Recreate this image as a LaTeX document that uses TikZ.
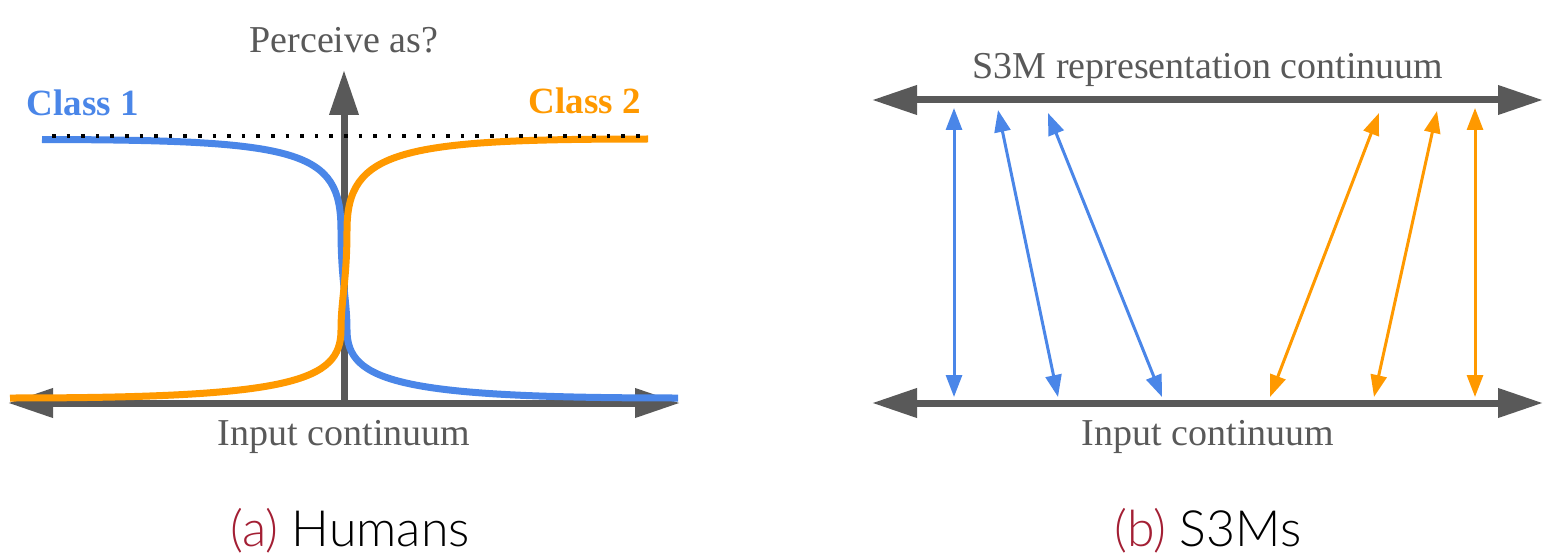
\documentclass[tikz,border=0pt]{standalone}
\usepackage{fontspec}
\setmainfont{Liberation Serif}
\newfontfamily\capfont{Lato}[UprightFont={* Light}]
\usetikzlibrary{arrows.meta}
\definecolor{axisgray}{HTML}{595959}
\definecolor{cblue}{HTML}{4A86E8}
\definecolor{corange}{HTML}{FF9900}
\definecolor{capred}{HTML}{A31F34}
\tikzset{
  axis/.style={draw=axisgray, line width=7pt},
  bigtip/.style={-{Triangle[length=45pt,width=28pt]}},
  bigtips/.style={{Triangle[length=45pt,width=28pt]}-{Triangle[length=45pt,width=28pt]}},
  curveline/.style={line width=7pt},
  thinarrow/.style={line width=3pt, {Triangle[length=22pt,width=16pt]}-{Triangle[length=22pt,width=16pt]}},
  lbl/.style={text=axisgray, font=\fontsize{38}{40}\selectfont, inner sep=0pt},
  cls/.style={font=\fontsize{37}{40}\selectfont\bfseries, inner sep=0pt},
  captext/.style={font=\capfont\fontsize{50}{52}\selectfont, inner sep=0pt}
}
\begin{document}
\begin{tikzpicture}[x=1pt,y=-1pt]
\useasboundingbox (0,0) rectangle (1545,559);
% ---------- panel (a)
\coordinate (aL) at (8,403);
\coordinate (aR) at (680,403);
\coordinate (aB) at (344,403);
\coordinate (aT) at (344,70);
\draw[axis,bigtips] (aL) -- (aR);
\draw[axis,bigtip] (aB) -- (aT);
\draw[curveline, cblue] (42,139.5) .. controls (300,140) and (341,150) .. (341,230)
   .. controls (341,280) and (347,300) .. (347,330)
   .. controls (347,382) and (400,398) .. (678,398);
\draw[curveline, corange] (10,398) .. controls (290,398) and (341,382) .. (341,330)
   .. controls (341,300) and (347,280) .. (347,230)
   .. controls (347,150) and (400,139) .. (648,139);
\coordinate (dL) at (52,136);
\coordinate (dR) at (648,136);
\draw[line width=3.5pt, dash pattern=on 3.5pt off 11.1pt] (dL) -- (dR);
\node[lbl] (perc) at (344,40) {Perceive as?};
\node[lbl] (ina) at (344,437) {Input continuum};
\node[cls, text=cblue] (c1) at (83,103) {Class 1};
\node[cls, text=corange] (c2) at (585,101) {Class 2};
\node[captext] (capa) at (350,531) {\textcolor{capred}{(a)} Humans};
% ---------- panel (b)
\coordinate (tL) at (872,100);
\coordinate (tR) at (1543,100);
\coordinate (bL) at (872,403);
\coordinate (bR) at (1543,403);
\draw[axis,bigtips] (tL) -- (tR);
\draw[axis,bigtips] (bL) -- (bR);
\node[lbl] (rep) at (1208,70) {S3M representation continuum};
\node[lbl] (inb) at (1208,437) {Input continuum};
\coordinate (u1) at (954,108);  \coordinate (v1) at (954,397);
\coordinate (u2) at (998,110);  \coordinate (v2) at (1058,397);
\coordinate (u3) at (1048,113); \coordinate (v3) at (1162,397);
\coordinate (u4) at (1379,113); \coordinate (v4) at (1270,397);
\coordinate (u5) at (1437,111); \coordinate (v5) at (1374,397);
\coordinate (u6) at (1475,108); \coordinate (v6) at (1475,397);
\draw[thinarrow, cblue] (u1) -- (v1);
\draw[thinarrow, cblue] (u2) -- (v2);
\draw[thinarrow, cblue] (u3) -- (v3);
\draw[thinarrow, corange] (u4) -- (v4);
\draw[thinarrow, corange] (u5) -- (v5);
\draw[thinarrow, corange] (u6) -- (v6);
\node[captext] (capb) at (1208,531) {\textcolor{capred}{(b)} S3Ms};
\end{tikzpicture}
\end{document}
